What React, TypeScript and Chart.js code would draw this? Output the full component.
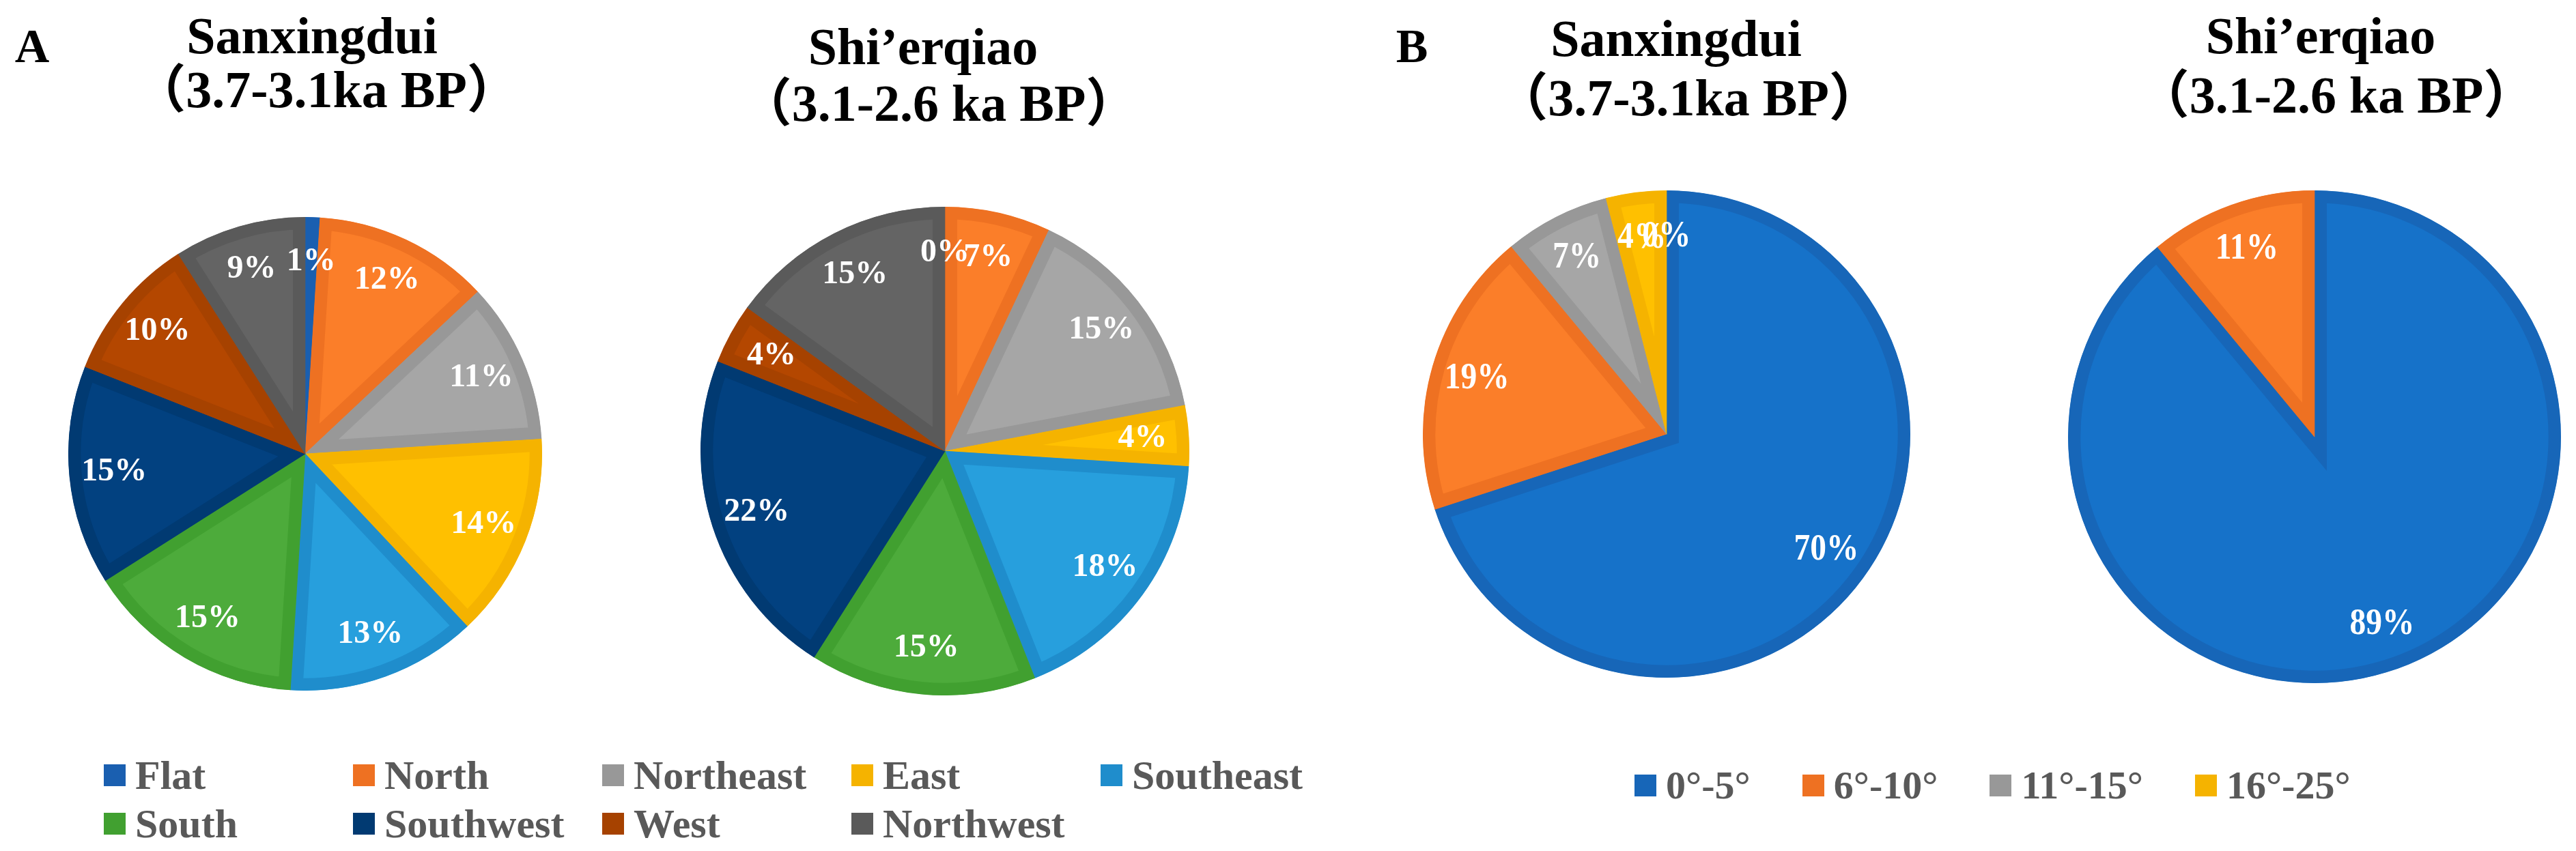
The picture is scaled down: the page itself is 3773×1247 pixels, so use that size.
import { useEffect, useRef } from 'react';
import { Chart, registerables } from 'chart.js';

Chart.register(...registerables);

// Aspect (panel A)
const aspectCategories = ['Flat', 'North', 'Northeast', 'East', 'Southeast', 'South', 'Southwest', 'West', 'Northwest'];
const sanxingduiAspect = [1, 12, 11, 14, 13, 15, 15, 10, 9];
const shierqiaoAspect = [0, 7, 15, 4, 18, 15, 22, 4, 15];
const aspectFill = ['#1C67BE', '#FB7E29', '#A6A6A6', '#FFC000', '#279FDD', '#4DAB3B', '#024180', '#B44700', '#646464'];
const aspectEdge = ['#1A5FB0', '#EE7122', '#989898', '#F5B300', '#1F8DCC', '#41A030', '#013A72', '#A64200', '#5A5A5A'];

// Slope (panel B) - the 5th Sanxingdui value is the unlabeled 0% slice at the top
const slopeCategories = ['0°-5°', '6°-10°', '11°-15°', '16°-25°'];
const sanxingduiSlope = [70, 19, 7, 4, 0];
const shierqiaoSlope = [89, 11];
const slopeFill = ['#1672C9', '#FB7E29', '#A6A6A6', '#FFC000', '#1672C9'];
const slopeEdge = ['#1766B8', '#EE7122', '#989898', '#F5B300', '#1766B8'];

const serif = '"Liberation Serif", "Times New Roman", "Noto Sans CJK SC", serif';

// écrit les pourcentages dans les parts
const percentLabels = {
  id: 'percentLabels',
  afterDatasetsDraw(chart: any, _args: any, opts: any) {
    const { ctx } = chart;
    const meta = chart.getDatasetMeta(0);
    const values = chart.data.datasets[0].data as number[];
    const sx = opts.scaleX || 1;
    meta.data.forEach((arc: any, i: number) => {
      const { x, y, startAngle, endAngle, outerRadius } = arc.getProps(
        ['x', 'y', 'startAngle', 'endAngle', 'outerRadius'],
        true
      );
      const mid = (startAngle + endAngle) / 2;
      const r = outerRadius * opts.ratio;
      ctx.save();
      ctx.translate(x + Math.cos(mid) * r, y + Math.sin(mid) * r);
      ctx.scale(sx, 1);
      ctx.font = `bold ${opts.size}px ${serif}`;
      ctx.fillStyle = '#ffffff';
      ctx.textAlign = 'center';
      ctx.textBaseline = 'middle';
      ctx.fillText(values[i] + '%', 0, 0);
      ctx.restore();
    });
  },
};

interface PieProps {
  labels: string[];
  values: number[];
  fill: string[];
  edge: string[];
  cx: number;
  cy: number;
  r: number;
  labelSize: number;
  labelScaleX?: number;
}

function Pie({ labels, values, fill, edge, cx, cy, r, labelSize, labelScaleX = 1 }: PieProps) {
  const chartRef = useRef<HTMLCanvasElement>(null);
  const chartInstance = useRef<Chart | null>(null);

  useEffect(() => {
    if (!chartRef.current) return;
    if (chartInstance.current) chartInstance.current.destroy();
    const ctx = chartRef.current.getContext('2d');
    if (!ctx) return;

    chartInstance.current = new Chart(ctx, {
      type: 'pie',
      data: {
        labels,
        datasets: [
          {
            data: values,
            backgroundColor: fill,
            borderColor: edge,
            borderWidth: 18,
            borderAlign: 'inner',
            borderJoinStyle: 'miter',
          } as any,
        ],
      },
      options: {
        responsive: true,
        maintainAspectRatio: false,
        animation: false,
        layout: { padding: 0 },
        plugins: {
          legend: { display: false },
          tooltip: { enabled: false },
          percentLabels: { size: labelSize, ratio: 0.81, scaleX: labelScaleX },
        } as any,
      },
      plugins: [percentLabels],
    });

    return () => {
      if (chartInstance.current) chartInstance.current.destroy();
    };
  }, [labels, values, fill, edge, labelSize, labelScaleX]);

  return (
    <div style={{ position: 'absolute', left: cx - r, top: cy - r, width: 2 * r, height: 2 * r }}>
      <canvas ref={chartRef} />
    </div>
  );
}

function Text({ x, y, size, children }: { x: number; y: number; size: number; children: any }) {
  return (
    <div
      style={{
        position: 'absolute',
        left: x,
        top: y,
        transform: 'translate(-50%, -50%)',
        fontFamily: serif,
        fontWeight: 'bold',
        fontSize: size,
        lineHeight: 1,
        whiteSpace: 'nowrap',
        color: '#000',
      }}
    >
      {children}
    </div>
  );
}

function LegendItem({ label, color, size }: { label: string; color: string; size: number }) {
  return (
    <div style={{ display: 'flex', alignItems: 'center', whiteSpace: 'nowrap' }}>
      <span style={{ display: 'inline-block', width: 32, height: 32, background: color, marginRight: 14 }} />
      <span style={{ fontFamily: serif, fontWeight: 'bold', fontSize: size, color: '#595959', lineHeight: 1 }}>
        {label}
      </span>
    </div>
  );
}

export default function App() {
  return (
    <div
      style={{
        position: 'absolute',
        left: 0,
        top: 0,
        width: 3773,
        height: 1247,
        background: '#ffffff',
        overflow: 'hidden',
      }}
    >
      {/* Panel A */}
      <Text x={47} y={68} size={70}>A</Text>
      <Text x={457} y={52} size={76}>Sanxingdui</Text>
      <Text x={478} y={131} size={76}>（3.7-3.1ka BP）</Text>
      <Text x={1352} y={68} size={76}>Shi’erqiao</Text>
      <Text x={1375} y={151} size={76}>（3.1-2.6 ka BP）</Text>

      <Pie labels={aspectCategories} values={sanxingduiAspect} fill={aspectFill} edge={aspectEdge}
        cx={447} cy={665} r={347} labelSize={48} />
      <Pie labels={aspectCategories} values={shierqiaoAspect} fill={aspectFill} edge={aspectEdge}
        cx={1384} cy={661} r={358} labelSize={48} />

      <div
        style={{
          position: 'absolute',
          left: 152,
          top: 1100,
          display: 'grid',
          gridTemplateColumns: 'repeat(5, 365px)',
          gridAutoRows: '71px',
          alignItems: 'center',
        }}
      >
        {aspectCategories.map((c, i) => (
          <LegendItem key={c} label={c} color={aspectEdge[i]} size={60} />
        ))}
      </div>

      {/* Panel B */}
      <Text x={2068} y={68} size={70}>B</Text>
      <Text x={2455} y={56} size={76}>Sanxingdui</Text>
      <Text x={2473} y={143} size={76}>（3.7-3.1ka BP）</Text>
      <Text x={3399} y={52} size={76}>Shi’erqiao</Text>
      <Text x={3422} y={139} size={76}>（3.1-2.6 ka BP）</Text>

      <Pie labels={slopeCategories} values={sanxingduiSlope} fill={slopeFill} edge={slopeEdge}
        cx={2441} cy={636} r={357} labelSize={54} labelScaleX={0.88} />
      <Pie labels={slopeCategories} values={shierqiaoSlope} fill={slopeFill} edge={slopeEdge}
        cx={3390} cy={640} r={361} labelSize={54} labelScaleX={0.88} />

      <div
        style={{
          position: 'absolute',
          left: 2394,
          top: 1121,
          height: 60,
          display: 'flex',
          alignItems: 'center',
          gap: 76,
        }}
      >
        {slopeCategories.map((c, i) => (
          <LegendItem key={c} label={c} color={slopeEdge[i]} size={58} />
        ))}
      </div>
    </div>
  );
}
